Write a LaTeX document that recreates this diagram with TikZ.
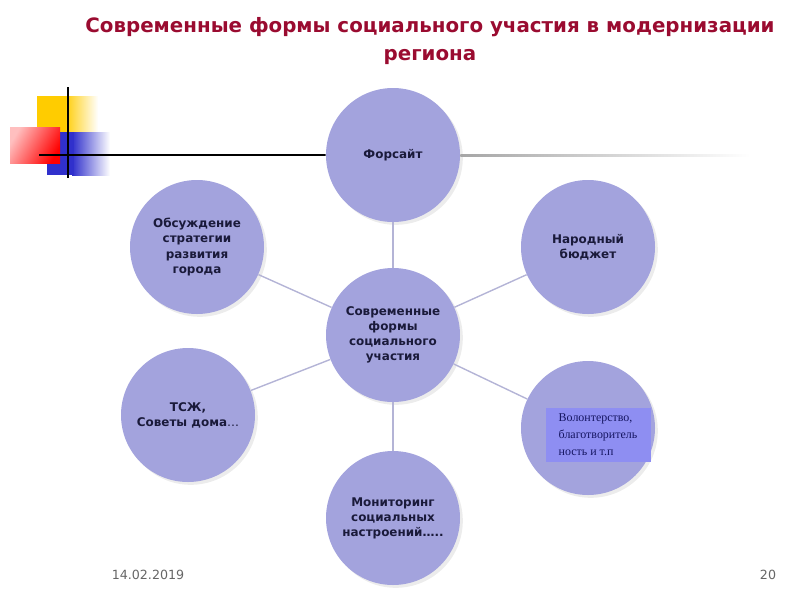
\documentclass[tikz,border=0pt]{standalone}
\usepackage{fontspec}
\setmainfont{DejaVu Sans}
\newfontfamily\serifcyr{Liberation Serif}
\usepackage{tikz}
\usetikzlibrary{positioning, shadows}
\definecolor{titlered}{HTML}{9A0B30}
\definecolor{formfill}{HTML}{A3A3DD}
\definecolor{formtext}{HTML}{1A1A3A}
\definecolor{linkline}{HTML}{B4B4D6}
\definecolor{notebox}{HTML}{8E8EF2}
\definecolor{decoyellow}{HTML}{FFCC00}
\definecolor{decoblue}{HTML}{3030CC}

\begin{document}
\begin{tikzpicture}[node distance=4.5cm, on grid, auto,
    form/.style={circle, minimum size=3.35cm, fill=formfill, text=formtext,
      align=center, font=\bfseries\fontsize{8.5}{10.7}\selectfont,
      drop shadow={shadow xshift=2pt, shadow yshift=-2pt, fill=gray!30, opacity=0.5}},
    link/.style={linkline, line width=1pt}]

      \useasboundingbox (0,0) rectangle (20,-15);

      % corner decoration
      \shade[left color=decoyellow, right color=white] (1.6,-2.4) rectangle (2.45,-3.33);
      \fill[decoyellow] (0.925,-2.4) rectangle (1.65,-3.33);
      \shade[left color=decoblue, right color=white] (1.8,-3.3) rectangle (2.75,-4.375);
      \fill[decoblue] (1.175,-3.3) rectangle (1.85,-4.375);
      \shade[left color=red!25, right color=red, shading angle=60] (0.25,-3.175) rectangle (1.5,-4.075);
      \draw[line width=1.4pt] (1.7,-2.175) -- (1.7,-4.45);

      % title
      \node[text=titlered, font=\bfseries\fontsize{14.1}{20}\selectfont, align=center]
        (title) at (10.75,-1.03) {Современные формы социального участия в модернизации\\регион\smash{а}};

      \node[form] (centre) at (9.825,-8.375) {Современные\\формы\\социального\\участия};
      \node[form] (forsajt) [above=of centre] {Форсайт};
      \node[form] (monitoring) [below=4.575cm of centre] {Мониторинг\\социальных\\настроений…..};
      \node[form] (obsuzhdenie) [above left=2.2cm and 4.9cm of centre] {Обсуждение\\стратегии\\развития\\города};
      \node[form] (budzhet) [above right=2.2cm and 4.875cm of centre] {Народный\\бюджет};
      \node[form] (tszh) [below left=2cm and 5.125cm of centre] {ТСЖ,\\Советы дома\textmd{…}};
      \node[form] (volontery) [below right=2.325cm and 4.875cm of centre] {};
      \node[fill=notebox, text=formtext!80!blue, minimum width=2.625cm, minimum height=1.35cm,
        inner sep=2pt, align=left, font=\serifcyr\fontsize{8.5}{12.2}\selectfont]
        (note) at (14.95,-10.875) {Волонтерство,\\благотворитель\\ность и т.п};

      \path[link] (centre) edge (forsajt)
                  (centre) edge (monitoring)
                  (centre) edge (obsuzhdenie)
                  (centre) edge (budzhet)
                  (centre) edge (tszh)
                  (centre) edge (volontery);

      % rule through the top circle
      \coordinate (ruleL) at (0.975,-3.875);
      \draw[line width=1.4pt] (ruleL) -- (forsajt.west);
      \shade[left color=gray!70, right color=white] (forsajt.east) ++(0,0.025) rectangle (18.75,-3.9);

      % footer
      \node[text=gray!80!black, font=\fontsize{9}{11}\selectfont] (date) at (3.7,-14.375) {14.02.2019};
      \node[text=gray!80!black, font=\fontsize{9}{11}\selectfont] (page) at (19.2,-14.375) {20};
    \end{tikzpicture}
\end{document}
